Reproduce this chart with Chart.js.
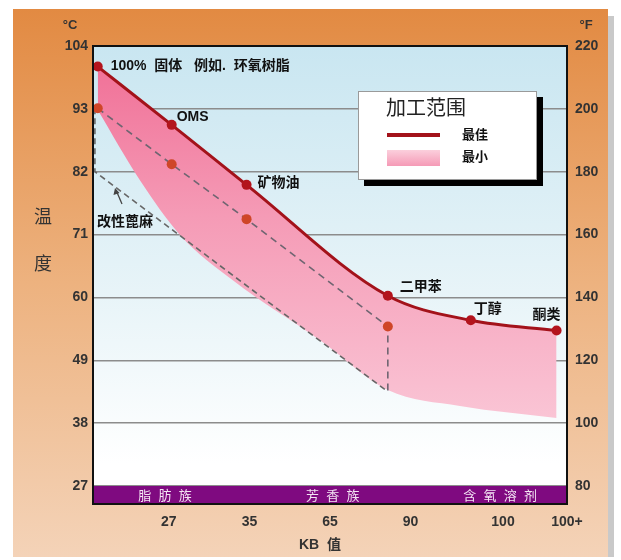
<!DOCTYPE html>
<html>
<head>
<meta charset="utf-8">
<script src="https://cdn.jsdelivr.net/npm/chart.js@4.4.0/dist/chart.umd.min.js"></script>
<style>
  html, body { margin: 0; padding: 0; background: #fff; }
  #wrap { width: 621px; height: 560px; position: relative; }
</style>
</head>
<body>
<div id="wrap"><canvas id="chart"></canvas></div>
<script>
// KB value ticks along the bottom (placed at their position on a 0..100 axis)
const kbLabels   = ['27', '35', '65', '90', '100', '100+'];
const kbTickPos  = [16, 33, 50, 67, 86.5, 100];

const celsiusTicks    = [27, 38, 49, 60, 71, 82, 93, 104];
const fahrenheitTicks = [80, 100, 120, 140, 160, 180, 200, 220];

// best processing temperature per solvent
const solventNames = ['100%  固体   例如.  环氧树脂', 'OMS', '矿物油', '二甲苯', '丁醇', '酮类'];
const bestX    = [1, 16.6, 32.4, 62.2, 79.7, 97.8];
const bestTemp = [100.4, 90.2, 79.7, 60.3, 56.0, 54.2];

// lower edge of the pink band (minimum)
const minX    = [1, 9.9, 18.4, 29.5, 47.9, 62.2, 77.4, 97.8];
const minTemp = [92.8, 80.5, 70.9, 63.0, 52.5, 43.8, 41.0, 38.9];

// modified castor dashed guides
const castorX       = [1, 16.6, 32.4, 62.2, 62.2];
const castorTemp    = [93.1, 83.3, 73.7, 54.9, 43.5];
const castorLowX    = [0.4, 0.4, 62.2];
const castorLowTemp = [93.1, 82, 43.5];

const familyNames = ['脂  肪  族', '芳  香  族', '含  氧  溶  剂'];
const familyPos   = [15.2, 50.6, 85.9];

const CJK = "'Liberation Sans', 'Noto Sans CJK SC', sans-serif";

function pts(xs, ys) { return xs.map((x, i) => ({ x: x, y: ys[i] })); }

function pinkFill(context) {
    const chart = context.chart;
    const area = chart.chartArea;
    if (!area) return '#f7a6bd';
    const g = chart.ctx.createLinearGradient(0, area.top, 0, area.top + 380);
    g.addColorStop(0, '#f06c94');
    g.addColorStop(0.45, '#f59bb6');
    g.addColorStop(1, '#fac6d6');
    return g;
}

const decor = {
    id: 'decor',
    beforeDraw(chart) {
        const c = chart.ctx, a = chart.chartArea;
        c.save();
        c.fillStyle = '#fff';
        c.fillRect(0, 0, chart.width, chart.height);
        // grey shadow on the right of the panel
        c.fillStyle = '#c9c9c9';
        c.fillRect(608, 16, 6, 541);
        // orange panel
        const g = c.createLinearGradient(0, 9, 0, 557);
        g.addColorStop(0, '#e28a42');
        g.addColorStop(0.5, '#edb27f');
        g.addColorStop(1, '#f4d3b8');
        c.fillStyle = g;
        c.fillRect(13, 9, 595, 548);
        // plot background
        const b = c.createLinearGradient(0, a.top, 0, a.bottom - 40);
        b.addColorStop(0, '#c9e6f1');
        b.addColorStop(0.6, '#e8f4f8');
        b.addColorStop(1, '#ffffff');
        c.fillStyle = b;
        c.fillRect(a.left, a.top, a.right - a.left, a.bottom - a.top);
        c.restore();
    },
    afterDatasetsDraw(chart) {
        const c = chart.ctx, a = chart.chartArea;
        const xs = chart.scales.x, ys = chart.scales.y;
        c.save();

        // purple family band
        const bandTop = ys.getPixelForValue(27);
        c.fillStyle = '#7f0a80';
        c.fillRect(a.left, bandTop, a.right - a.left, a.bottom - bandTop);
        c.fillStyle = '#f3e4f3';
        c.font = '13px ' + CJK;
        c.textAlign = 'center';
        c.textBaseline = 'middle';
        familyNames.forEach((t, i) => c.fillText(t, xs.getPixelForValue(familyPos[i]), (bandTop + a.bottom) / 2 + 1));

        // plot frame
        c.strokeStyle = '#111';
        c.lineWidth = 2;
        c.strokeRect(a.left, a.top, a.right - a.left, a.bottom - a.top);

        // solvent labels next to the best points
        const offs = [[13, 0], [5, -8], [11, -2], [12, -9], [3, -11], [-24, -15]];
        c.fillStyle = '#111';
        c.textAlign = 'left';
        c.font = 'bold 14px ' + CJK;
        solventNames.forEach((t, i) => {
            const px = xs.getPixelForValue(bestX[i]) + offs[i][0];
            const py = ys.getPixelForValue(bestTemp[i]) + offs[i][1];
            c.fillText(t, px, py);
        });

        // modified castor label + arrow
        c.font = 'bold 14px ' + CJK;
        c.fillText('改性蓖麻', 97, 222);
        c.strokeStyle = '#444';
        c.lineWidth = 1.3;
        c.beginPath();
        c.moveTo(122, 204); c.lineTo(116, 190);
        c.stroke();
        c.fillStyle = '#444';
        c.beginPath();
        c.moveTo(115, 188); c.lineTo(113.5, 195); c.lineTo(119.5, 193);
        c.closePath(); c.fill();

        // legend box
        c.fillStyle = '#000';
        c.fillRect(364, 97, 179, 89);
        c.fillStyle = '#fff';
        c.fillRect(358, 91, 179, 89);
        c.strokeStyle = '#9a9a9a';
        c.lineWidth = 1;
        c.strokeRect(358.5, 91.5, 178, 88);
        c.fillStyle = '#222';
        c.font = '20px ' + CJK;
        c.fillText('加工范围', 386, 109);
        c.strokeStyle = '#a3121a';
        c.lineWidth = 4;
        c.beginPath(); c.moveTo(387, 135); c.lineTo(440, 135); c.stroke();
        const lg = c.createLinearGradient(0, 150, 0, 166);
        lg.addColorStop(0, '#fbcfdc');
        lg.addColorStop(1, '#f59ab6');
        c.fillStyle = lg;
        c.fillRect(387, 150, 53, 16);
        c.fillStyle = '#111';
        c.font = 'bold 13px ' + CJK;
        c.fillText('最佳', 462, 135);
        c.fillText('最小', 462, 157);

        // axis captions
        c.fillStyle = '#333';
        c.textAlign = 'center';
        c.font = 'bold 13px ' + CJK;
        c.fillText('°C', 70, 25);
        c.fillText('°F', 586, 25);
        c.font = 'bold 14px ' + CJK;
        c.fillText('KB  值', 320, 545);
        c.font = '18px ' + CJK;
        c.fillText('温', 43, 218);
        c.fillText('度', 43, 265);
        c.restore();
    }
};

new Chart(document.getElementById('chart'), {
    type: 'line',
    data: {
        datasets: [
            {
                label: '最佳',
                data: pts(bestX, bestTemp),
                borderColor: '#a3121a',
                borderWidth: 3,
                cubicInterpolationMode: 'monotone',
                pointRadius: 5,
                pointBackgroundColor: '#b3141d',
                pointBorderWidth: 0,
                fill: false,
                order: 0,
            },
            {
                label: '改性蓖麻',
                data: pts(castorX, castorTemp),
                borderColor: '#6f6571',
                borderWidth: 1.6,
                borderDash: [7, 5],
                pointRadius: [5, 5, 5, 5, 0],
                pointBackgroundColor: '#cf4628',
                pointBorderWidth: 0,
                fill: false,
                order: 1,
            },
            {
                label: '改性蓖麻下限',
                data: pts(castorLowX, castorLowTemp),
                borderColor: '#666',
                borderWidth: 1.6,
                borderDash: [6, 4],
                pointRadius: 0,
                fill: false,
                order: 1,
            },
            {
                label: '最小',
                data: pts(minX, minTemp),
                borderWidth: 0,
                borderColor: 'rgba(0,0,0,0)',
                backgroundColor: pinkFill,
                cubicInterpolationMode: 'monotone',
                pointRadius: 0,
                fill: 0,
                order: 2,
            },
        ]
    },
    options: {
        responsive: true,
        maintainAspectRatio: false,
        animation: false,
        layout: { padding: { top: 46, left: 0, right: 0, bottom: 0 } },
        plugins: { legend: { display: false }, tooltip: { enabled: false } },
        scales: {
            x: {
                type: 'linear',
                min: 0,
                max: 100,
                afterBuildTicks: (s) => { s.ticks = kbTickPos.map(v => ({ value: v })); },
                afterFit: (s) => { s.height = 56; },
                grid: { display: false, drawTicks: false },
                border: { display: false },
                ticks: {
                    padding: 10,
                    maxRotation: 0,
                    autoSkip: false,
                    color: '#333',
                    font: { family: 'Liberation Sans', weight: 'bold', size: 14 },
                    callback: (v, i) => kbLabels[i],
                }
            },
            y: {
                position: 'left',
                min: 23.85,
                max: 104,
                afterBuildTicks: (s) => { s.ticks = celsiusTicks.map(v => ({ value: v })); },
                afterFit: (s) => { s.width = 93; },
                grid: { color: '#8c8c8c', lineWidth: 1.5, drawTicks: false },
                border: { display: false },
                ticks: {
                    padding: 5,
                    color: '#333',
                    font: { family: 'Liberation Sans', weight: 'bold', size: 14 },
                }
            },
            y2: {
                position: 'right',
                min: 74.27,
                max: 220,
                afterBuildTicks: (s) => { s.ticks = fahrenheitTicks.map(v => ({ value: v })); },
                afterFit: (s) => { s.width = 54; },
                grid: { display: false, drawTicks: false },
                border: { display: false },
                ticks: {
                    padding: 8,
                    color: '#333',
                    font: { family: 'Liberation Sans', weight: 'bold', size: 14 },
                }
            }
        }
    },
    plugins: [decor]
});
</script>
</body>
</html>
